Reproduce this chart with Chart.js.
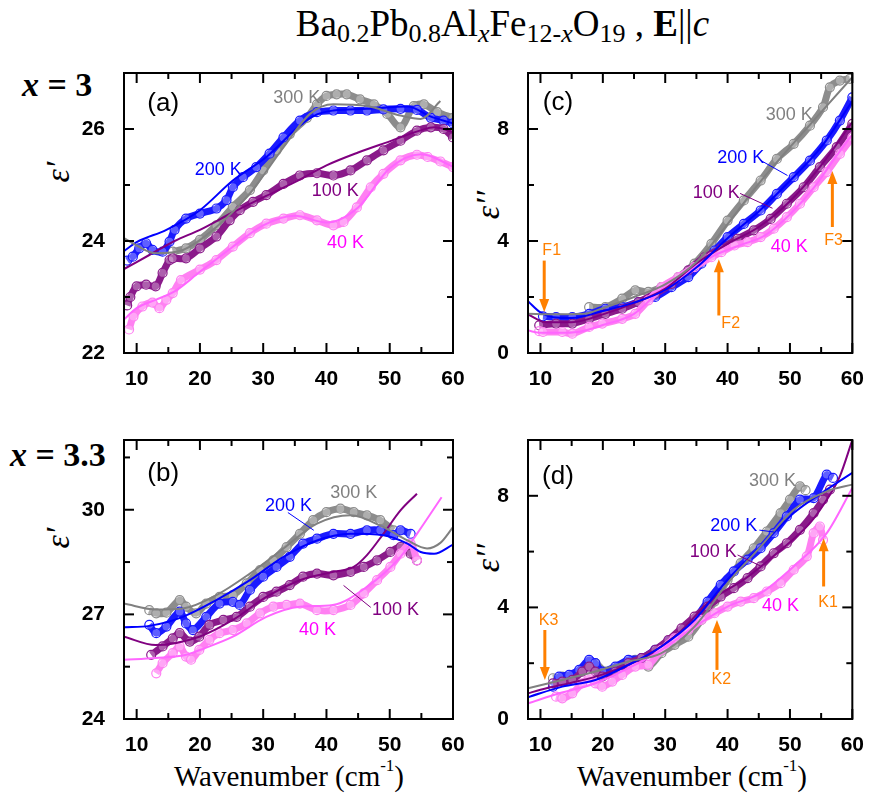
<!DOCTYPE html>
<html>
<head>
<meta charset="utf-8">
<script src="https://cdn.jsdelivr.net/npm/chart.js@4.4.1/dist/chart.umd.min.js"></script>
<style>
  body { margin: 0; background: #fff; }
  #wrap { position: relative; width: 870px; height: 805px; overflow: hidden; font-family: "Liberation Serif", "Times New Roman", serif; }
  canvas { position: absolute; left: 0; top: 0; pointer-events: none; }
  .t { position: absolute; white-space: nowrap; color: #000; }
  .sub { font-size: 26px; position: relative; top: 6px; }
  .eps { position: absolute; font-style: italic; font-size: 34px; transform: translate(-50%, -50%) rotate(-90deg); white-space: nowrap; }
  .wn { position: absolute; top: 760px; font-size: 29px; text-align: center; width: 330px; }
  .wn sup { font-size: 17px; position: relative; top: -4px; vertical-align: top; }
</style>
</head>
<body>
<div id="wrap">
  <div class="t" style="left:0; width:1005px; top:2px; text-align:center; font-size:37px;">Ba<span class="sub">0.2</span>Pb<span class="sub">0.8</span>Al<span class="sub"><i>x</i></span>Fe<span class="sub">12-<i>x</i></span>O<span class="sub">19</span> , <b>E</b>||<i>c</i></div>
  <div class="t" style="left:22px; top:66px; font-size:34px; font-weight:bold;"><i>x</i> = 3</div>
  <div class="t" style="left:10px; top:436px; font-size:34px; font-weight:bold;"><i>x</i> = 3.3</div>
  <div class="eps" style="left:58px; top:172px;">ε′</div>
  <div class="eps" style="left:58px; top:538px;">ε′</div>
  <div class="eps" style="left:488px; top:205px;">ε′′</div>
  <div class="eps" style="left:488px; top:558px;">ε′′</div>
  <div class="wn" style="left:124px;">Wavenumber (cm<sup>-1</sup>)</div>
  <div class="wn" style="left:527px;">Wavenumber (cm<sup>-1</sup>)</div>
  <canvas id="pa" width="870" height="805"></canvas>
  <canvas id="pb" width="870" height="805"></canvas>
  <canvas id="pc" width="870" height="805"></canvas>
  <canvas id="pd" width="870" height="805"></canvas>
</div>
<script>
// axis ticks
const waveTicks = [10, 20, 30, 40, 50, 60];
const waveMinor = [15, 25, 35, 45, 55];
const tempLabels = ['40 K', '100 K', '200 K', '300 K'];
const dataColors = ['#ff80f2', '#8a1a8a', '#1a1aff', '#8c8c8c'];
const fitColors = ['#ff66ff', '#800080', '#0000ff', '#808080'];
const labelColors = ['#ff00ff', '#800080', '#0000ff', '#808080'];

// (a) x = 3, eps'
const a40x = [8.8, 9.5, 10.9, 12.5, 13.6, 14.7, 15.7, 17, 20, 22.6, 25.2, 27.9, 30.5, 33.2, 35.8, 38.5, 41.1, 42.7, 44.8, 47, 49, 51.7, 54.3, 56, 58, 60];
const a40y = [22.42, 22.65, 22.83, 22.9, 22.8, 22.95, 23.07, 23.3, 23.49, 23.66, 23.9, 24.14, 24.31, 24.4, 24.46, 24.37, 24.28, 24.34, 24.6, 24.96, 25.2, 25.44, 25.54, 25.5, 25.42, 25.32];
const a40fx = [8, 10, 13, 16, 20, 25, 30, 35, 40, 45, 50, 55, 60];
const a40fy = [22.6, 22.8, 22.95, 23.1, 23.45, 23.88, 24.28, 24.45, 24.33, 24.6, 25.3, 25.55, 25.33];
const a100x = [8.5, 9, 10, 11.5, 13, 14.1, 15.2, 15.7, 17.8, 20, 22.6, 24.7, 26.3, 28.4, 30.5, 33.2, 35.8, 38.5, 41.1, 43.8, 46.4, 49, 51.7, 54.3, 56.5, 58.5, 60];
const a100y = [22.85, 23.0, 23.19, 23.22, 23.19, 23.43, 23.66, 23.69, 23.69, 23.87, 24.08, 24.37, 24.55, 24.7, 24.82, 25.02, 25.17, 25.21, 25.17, 25.26, 25.44, 25.62, 25.79, 25.97, 26.03, 26.0, 25.85];
const a100fx = [8, 12, 16, 20, 25, 30, 35, 40, 45, 50, 55, 57, 60];
const a100fy = [23.5, 23.75, 24.0, 24.2, 24.5, 24.78, 25.05, 25.35, 25.58, 25.78, 25.98, 26.03, 25.95];
const a200x = [8.5, 9.4, 10.4, 11.5, 12.5, 14.1, 15.2, 16, 17.8, 20, 22.6, 24.2, 25.2, 26.8, 28.9, 31, 33.2, 35.8, 38.5, 41.1, 43.8, 46.4, 49, 51.7, 54.3, 56.5, 58.5, 60];
const a200y = [23.65, 23.72, 23.87, 23.96, 23.84, 23.81, 23.99, 24.2, 24.4, 24.49, 24.58, 24.73, 24.96, 25.14, 25.32, 25.56, 25.85, 26.15, 26.3, 26.33, 26.33, 26.33, 26.35, 26.36, 26.34, 26.2, 26.15, 26.1];
const a200fx = [8, 10, 14.7, 20, 25.2, 30.5, 35.8, 38.5, 41.1, 46.4, 52.8, 56.5, 60];
const a200fy = [23.82, 23.98, 24.2, 24.55, 25.08, 25.5, 26.06, 26.26, 26.33, 26.36, 26.4, 26.22, 26.1];
const a300x = [15.7, 17.8, 20, 22.6, 25.2, 27.9, 30, 32.1, 34.2, 36.9, 38.5, 40, 41.6, 43.2, 45.3, 47.5, 49.6, 51.7, 53.8, 55.4, 57.5, 60];
const a300y = [23.81, 23.87, 24.02, 24.28, 24.61, 24.91, 25.26, 25.62, 25.91, 26.2, 26.44, 26.59, 26.62, 26.62, 26.53, 26.44, 26.27, 26.03, 26.41, 26.44, 26.3, 26.2];
const a300fx = [8, 10, 13, 17.3, 22.6, 27.9, 33.2, 37.4, 41.1, 46.4, 51.7, 54.9, 58];
const a300fy = [24.05, 23.92, 23.78, 23.84, 24.25, 24.85, 25.67, 26.27, 26.44, 26.41, 26.24, 26.18, 26.5];

// (b) x = 3.3, eps'
const b40x = [13.1, 14.1, 15.7, 16.8, 17.8, 18.6, 19.9, 21.5, 23.1, 25.2, 27.4, 29.5, 31.6, 33.7, 35.8, 38.5, 41.1, 43.8, 45.9, 48, 50.1, 51.7, 53.3, 54.3];
const b40y = [25.31, 25.6, 25.89, 26.08, 25.79, 25.7, 25.98, 26.27, 26.46, 26.55, 26.74, 27.03, 27.22, 27.27, 27.31, 27.12, 27.12, 27.27, 27.6, 27.98, 28.36, 28.74, 29.03, 28.55];
const b40fx = [8, 13, 18, 20, 25.2, 30.5, 35.8, 41, 46.4, 51.7, 54.3, 58.2];
const b40fy = [25.7, 25.75, 25.85, 25.98, 26.36, 26.93, 27.22, 27.27, 27.79, 28.65, 29.31, 30.36];
const b100x = [12.3, 14.1, 15.7, 16.8, 18.4, 19.9, 21.5, 23.7, 25.8, 27.9, 30, 32.1, 34.2, 36.3, 38.5, 41.1, 43.8, 45.9, 48, 50.1, 51.7, 53.3, 54.3];
const b100y = [25.84, 26.08, 26.31, 26.46, 26.22, 26.36, 26.7, 26.84, 26.93, 27.22, 27.5, 27.65, 27.84, 28.08, 28.17, 28.12, 28.22, 28.36, 28.55, 28.79, 28.93, 28.74, 28.55];
const b100fx = [8, 13, 19.9, 25.2, 30.5, 35.8, 41.1, 44.3, 46.4, 49, 51.7, 54.3];
const b100fy = [26.36, 26.12, 26.36, 26.84, 27.5, 27.98, 28.22, 28.36, 28.7, 29.31, 29.98, 30.46];
const b200x = [12, 13.1, 14.7, 16.8, 17.8, 18.9, 21, 23.1, 25.2, 26.3, 27.9, 30, 32.1, 34.2, 36.3, 38.5, 41.1, 43.8, 46.4, 48.5, 50.6, 51.7, 53.3];
const b200y = [26.7, 26.46, 26.65, 27.08, 26.74, 26.55, 26.93, 27.31, 27.36, 27.27, 27.7, 28.08, 28.36, 28.65, 29.03, 29.17, 29.31, 29.31, 29.41, 29.41, 29.27, 29.41, 29.31];
const b200fx = [8, 12, 17.3, 22.6, 27.9, 33.2, 38.5, 43.8, 49, 52.8, 54.9, 57, 60];
const b200fy = [26.63, 26.67, 26.93, 27.41, 27.98, 28.65, 29.12, 29.31, 29.27, 29.03, 28.79, 28.74, 29.0];
const b300x = [12, 13.1, 14.7, 16.8, 17.8, 19.4, 21, 23.1, 25.2, 27.4, 29.5, 31.6, 33.7, 35.8, 37.9, 40, 42.2, 44.3, 46.4, 48.5, 50.6];
const b300y = [27.12, 27.03, 27.05, 27.41, 27.22, 27.03, 27.31, 27.5, 27.55, 27.89, 28.27, 28.55, 28.93, 29.31, 29.7, 29.93, 30.03, 29.93, 29.84, 29.7, 29.41];
const b300fx = [8, 13, 17.3, 22.6, 27.9, 33.2, 38.5, 43.8, 49, 52.8, 55.9, 58, 60];
const b300fy = [27.31, 27.14, 27.17, 27.55, 28.17, 28.89, 29.6, 29.84, 29.5, 29.12, 28.89, 29.05, 29.5];

// (c) x = 3, eps''
const c40x = [9.8, 10.4, 13.5, 15.1, 17.8, 19.9, 23.1, 25.2, 27.3, 29.4, 32.1, 34.7, 37.4, 39, 41.1, 43.2, 45.3, 47.4, 49.5, 51.6, 53.8, 55.9, 58, 60];
const c40y = [0.78, 0.75, 0.75, 0.69, 0.93, 1.05, 1.22, 1.4, 1.88, 2.35, 2.71, 3.07, 3.42, 3.6, 3.84, 3.96, 4.14, 4.44, 4.85, 5.33, 5.92, 6.46, 7.11, 7.7];
const c40fx = [8, 10, 13, 16, 20, 25, 30, 35, 38, 42, 46, 50, 54, 57, 60];
const c40fy = [0.8, 0.72, 0.72, 0.75, 1.0, 1.4, 2.4, 3.1, 3.5, 3.85, 4.2, 4.95, 5.95, 6.9, 7.8];
const c100x = [9.8, 12.5, 15.1, 17.8, 20.4, 23.1, 25.7, 28.4, 31, 33.7, 36.3, 38.9, 41.6, 44.2, 46.9, 49.5, 52.2, 54.8, 57.5, 60];
const c100y = [0.99, 1.05, 1.05, 1.22, 1.4, 1.58, 1.82, 2.12, 2.47, 2.95, 3.42, 3.72, 4.08, 4.38, 4.79, 5.33, 5.92, 6.64, 7.35, 8.18];
const c100fx = [8, 10.9, 15, 20, 25, 30, 35, 40, 45, 50, 55, 60];
const c100fy = [1.38, 1.1, 1.1, 1.38, 1.78, 2.3, 3.2, 3.9, 4.5, 5.42, 6.7, 8.25];
const c200x = [10.4, 12.5, 15.1, 17.8, 20.4, 23.1, 25.7, 28.4, 31, 33.7, 35.8, 37.9, 40, 42.6, 45.3, 47.9, 50.6, 53.2, 55.9, 58, 60];
const c200y = [1.31, 1.28, 1.28, 1.4, 1.58, 1.64, 1.82, 2.0, 2.35, 2.71, 3.19, 3.66, 4.14, 4.61, 5.09, 5.68, 6.28, 6.87, 7.59, 8.3, 9.13];
const c200fx = [8, 10, 12, 15, 20, 25, 30, 35, 40, 45, 50, 55, 60];
const c200fy = [1.85, 1.45, 1.28, 1.25, 1.5, 1.8, 2.25, 3.05, 4.1, 5.05, 6.15, 7.35, 9.0];
const c300x = [17.8, 20.4, 23.1, 25.2, 27.3, 29.4, 32.1, 34.7, 37.4, 40, 42.6, 45.3, 47.9, 50.6, 53.2, 55.3, 56.4, 58, 59.6];
const c300y = [1.64, 1.64, 1.94, 2.24, 2.18, 2.35, 2.71, 3.19, 3.9, 4.73, 5.45, 6.16, 6.93, 7.47, 8.12, 8.78, 9.49, 9.73, 9.79];
const c300fx = [8, 12, 17, 20, 25, 30, 35, 40, 45, 50, 55, 60];
const c300fy = [1.4, 1.38, 1.4, 1.6, 2.0, 2.45, 3.25, 4.6, 6.05, 7.35, 8.6, 9.85];

// (d) x = 3.3, eps''
const d40x = [12.5, 13.5, 15.1, 16.7, 17.8, 18.8, 19.9, 21.5, 23.1, 25.2, 27.3, 29.4, 31.5, 33.7, 35.8, 37.9, 40, 42.1, 44.2, 46.3, 48.5, 50.6, 52.7, 53.8, 54.8, 55.3];
const d40y = [0.8, 0.74, 0.92, 1.28, 1.46, 1.28, 1.16, 1.34, 1.58, 1.88, 1.94, 2.48, 2.89, 3.19, 3.55, 3.79, 4.03, 4.21, 4.33, 4.57, 4.87, 5.35, 5.83, 6.66, 6.9, 6.42];
const d40fx = [8, 13, 18.8, 24.1, 29.4, 34.7, 40, 45.3, 50.6, 55.9, 60];
const d40fy = [0.56, 0.92, 1.28, 1.82, 2.48, 3.31, 4.03, 4.51, 5.47, 6.66, 8.28];
const d100x = [12, 13.5, 15.1, 16.7, 17.8, 18.8, 19.9, 22, 24.1, 26.2, 28.4, 30.5, 32.6, 34.7, 36.8, 38.9, 41, 43.2, 45.3, 47.4, 49.5, 51.6, 53.8, 55.3, 56.4];
const d100y = [1.28, 1.34, 1.4, 1.7, 1.88, 1.7, 1.52, 1.7, 2.0, 2.18, 2.48, 2.83, 3.25, 3.67, 4.03, 4.39, 4.69, 5.05, 5.47, 5.94, 6.3, 6.78, 7.38, 7.86, 8.22];
const d100fx = [8, 10, 15, 20, 26.8, 32.1, 37.4, 42.6, 47.9, 53.2, 55.9, 58, 60];
const d100fy = [0.92, 1.05, 1.3, 1.6, 2.24, 3.07, 4.27, 4.99, 5.94, 7.02, 7.86, 8.7, 10.0];
const d200x = [12, 13, 14.6, 16.2, 17.8, 18.8, 19.9, 22, 24.1, 26.2, 28.4, 30.5, 32.6, 34.7, 36.8, 38.9, 41, 43.2, 45.3, 47.4, 49.5, 51.6, 53.8, 55.9, 56.9];
const d200y = [1.16, 1.52, 1.58, 1.76, 2.12, 2.0, 1.7, 1.88, 2.12, 2.18, 2.48, 2.78, 3.07, 3.55, 4.21, 4.81, 5.29, 5.71, 6.12, 6.66, 7.26, 7.86, 7.92, 8.76, 8.64];
const d200fx = [8, 13.5, 18.8, 24.1, 29.4, 34.7, 40, 45.3, 50.6, 55.9, 60];
const d200fy = [0.78, 1.16, 1.4, 1.94, 2.6, 3.55, 4.99, 6.18, 7.38, 8.22, 8.82];
const d300x = [12, 13.5, 15.1, 17.2, 18.8, 20.4, 22.5, 25.2, 27.3, 29.4, 31.5, 33.7, 35.8, 37.9, 40, 42.1, 44.2, 46.3, 48.5, 50, 51.6, 52.5];
const d300y = [1.46, 1.52, 1.52, 1.88, 2.0, 1.7, 1.88, 2.12, 1.88, 2.36, 2.66, 2.95, 3.55, 4.21, 4.99, 5.59, 6.12, 6.72, 7.38, 7.86, 8.34, 8.2];
const d300fx = [8, 13.5, 18.8, 24.1, 29.4, 34.7, 40, 45.3, 50.6, 55.9, 60];
const d300fy = [1.1, 1.4, 1.7, 2.06, 2.36, 3.31, 4.87, 6.18, 7.5, 8.16, 8.4];

const pts = (xs, ys) => xs.map((x, i) => ({ x: x, y: ys[i] }));

// draws frame, inward ticks, labels, leader lines and arrows
const decor = {
  id: 'decor',
  afterDatasetsDraw(chart, args, o) {
    const { ctx, chartArea: ca, scales: { x, y } } = chart;
    const px = v => x.getPixelForValue(v), py = v => y.getPixelForValue(v);
    ctx.save();
    ctx.textAlign = 'center';
    ctx.textBaseline = 'middle';
    (o.leaders || []).forEach(l => {
      ctx.strokeStyle = l.color; ctx.lineWidth = 1;
      ctx.beginPath(); ctx.moveTo(px(l.x1), py(l.y1)); ctx.lineTo(px(l.x2), py(l.y2)); ctx.stroke();
    });
    (o.texts || []).forEach(t => {
      ctx.font = t.font || '18px "Liberation Sans", Arial, sans-serif';
      ctx.fillStyle = t.color || '#000';
      ctx.fillText(t.text, px(t.x), py(t.y));
    });
    (o.arrows || []).forEach(a => {
      const X = px(a.x), Y1 = py(a.y1), Y2 = py(a.y2), dir = Y2 > Y1 ? 1 : -1;
      ctx.strokeStyle = '#ff8000'; ctx.fillStyle = '#ff8000'; ctx.lineWidth = 3;
      ctx.beginPath(); ctx.moveTo(X, Y1); ctx.lineTo(X, Y2 - dir * 10); ctx.stroke();
      ctx.beginPath(); ctx.moveTo(X, Y2); ctx.lineTo(X - 5, Y2 - dir * 13); ctx.lineTo(X + 5, Y2 - dir * 13); ctx.closePath(); ctx.fill();
      ctx.font = '16px "Liberation Sans", Arial, sans-serif';
      ctx.fillText(a.text, px(a.tx), py(a.ty));
    });
    ctx.strokeStyle = '#000'; ctx.lineWidth = 2;
    ctx.strokeRect(ca.left, ca.top, ca.width, ca.height);
    const seg = (x1, y1, x2, y2) => { ctx.beginPath(); ctx.moveTo(x1, y1); ctx.lineTo(x2, y2); ctx.stroke(); };
    const xt = (v, len) => { const p = px(v); seg(p, ca.bottom, p, ca.bottom - len); seg(p, ca.top, p, ca.top + len); };
    const yt = (v, len) => { const p = py(v); seg(ca.left, p, ca.left + len, p); seg(ca.right, p, ca.right - len, p); };
    waveTicks.forEach(v => xt(v, 10));
    waveMinor.forEach(v => xt(v, 6));
    o.yMajor.forEach(v => yt(v, 10));
    o.yMinor.forEach(v => yt(v, 6));
    ctx.restore();
  }
};

function makeChart(id, p) {
  const sets = [];
  p.fits.forEach((f, i) => sets.push({
    data: pts(f[0], f[1]), showLine: true, pointRadius: 0, borderColor: fitColors[i],
    borderWidth: 2, cubicInterpolationMode: 'monotone', order: 4 - i
  }));
  p.data.forEach((d, i) => sets.push({
    data: pts(d[0], d[1]), showLine: true, tension: 0.3, borderColor: dataColors[i], borderWidth: 7,
    pointRadius: 4.5, pointBorderWidth: 1.2, pointBorderColor: dataColors[i],
    pointBackgroundColor: 'rgba(255,255,255,0.3)', order: 10 + i
  }));
  const tickFont = { family: '"Liberation Sans", Arial, sans-serif', size: 21, weight: 'bold' };
  const [L, T, R, B] = p.area;
  new Chart(document.getElementById(id), {
    type: 'scatter',
    data: { datasets: sets },
    options: {
      responsive: false, animation: false,
      layout: { padding: { left: L - 50, top: T, right: 870 - R, bottom: 805 - B - 40 } },
      plugins: {
        legend: { display: false }, tooltip: { enabled: false },
        decor: { yMajor: p.yTicks, yMinor: p.yMinor, texts: p.texts, leaders: p.leaders, arrows: p.arrows }
      },
      scales: {
        x: {
          type: 'linear', min: 8, max: 60,
          afterBuildTicks: s => { s.ticks = waveTicks.map(v => ({ value: v })); },
          afterFit: s => { s.height = 40; },
          grid: { display: false }, border: { display: false },
          ticks: { font: tickFont, color: '#000', padding: 6, maxRotation: 0, autoSkip: false }
        },
        y: {
          type: 'linear', min: p.yMin, max: p.yMax,
          afterBuildTicks: s => { s.ticks = p.yTicks.map(v => ({ value: v })); },
          afterFit: s => { s.width = 50; },
          grid: { display: false }, border: { display: false },
          ticks: { font: tickFont, color: '#000', padding: 11 }
        }
      }
    },
    plugins: [decor]
  });
}

const lbl = (text, x, y, i) => ({ text: text, x: x, y: y, color: i === undefined ? '#000' : labelColors[i],
  font: i === undefined ? '26px "Liberation Sans", Arial, sans-serif' : '18px "Liberation Sans", Arial, sans-serif' });

makeChart('pa', {
  area: [124, 73, 453, 353], yMin: 22, yMax: 27, yTicks: [22, 24, 26], yMinor: [23, 25, 27],
  data: [[a40x, a40y], [a100x, a100y], [a200x, a200y], [a300x, a300y]],
  fits: [[a40fx, a40fy], [a100fx, a100fy], [a200fx, a200fy], [a300fx, a300fy]],
  texts: [lbl('(a)', 14.2, 26.45), lbl(tempLabels[0], 43.0, 23.96, 0), lbl(tempLabels[1], 41.4, 24.9, 1),
          lbl(tempLabels[2], 22.9, 25.26, 2), lbl(tempLabels[3], 35.3, 26.56, 3)]
});
makeChart('pb', {
  area: [124, 440, 453, 719], yMin: 24, yMax: 32, yTicks: [24, 27, 30], yMinor: [25.5, 28.5, 31.5],
  data: [[b40x, b40y], [b100x, b100y], [b200x, b200y], [b300x, b300y]],
  fits: [[b40fx, b40fy], [b100fx, b100fy], [b200fx, b200fy], [b300fx, b300fy]],
  texts: [lbl('(b)', 14.2, 31.04), lbl(tempLabels[0], 38.6, 26.55, 0), lbl(tempLabels[1], 50.9, 27.12, 1),
          lbl(tempLabels[2], 34.0, 30.12, 2), lbl(tempLabels[3], 44.3, 30.47, 3)],
  leaders: [{ x1: 33.9, y1: 29.92, x2: 38.0, y2: 29.41, color: labelColors[2] },
            { x1: 47.0, y1: 27.2, x2: 42.7, y2: 27.83, color: labelColors[1] }]
});
makeChart('pc', {
  area: [528, 73, 856, 353], yMin: 0, yMax: 10, yTicks: [0, 4, 8], yMinor: [2, 6, 10],
  data: [[c40x, c40y], [c100x, c100y], [c200x, c200y], [c300x, c300y]],
  fits: [[c40fx, c40fy], [c100fx, c100fy], [c200fx, c200fy], [c300fx, c300fy]],
  texts: [lbl('(c)', 12.8, 8.95), lbl(tempLabels[0], 49.9, 3.77, 0), lbl(tempLabels[1], 38.2, 5.7, 1),
          lbl(tempLabels[2], 42.1, 6.95, 2), lbl(tempLabels[3], 49.9, 8.49, 3)],
  leaders: [{ x1: 45.3, y1: 6.88, x2: 49.6, y2: 6.34, color: labelColors[2] },
            { x1: 42.0, y1: 5.7, x2: 47.2, y2: 5.17, color: labelColors[1] }],
  arrows: [{ text: 'F1', x: 10.6, y1: 3.3, y2: 1.46, tx: 11.8, ty: 3.67 },
           { text: 'F2', x: 38.6, y1: 1.34, y2: 3.35, tx: 40.5, ty: 1.05 },
           { text: 'F3', x: 56.8, y1: 4.5, y2: 6.5, tx: 57.0, ty: 4.02 }]
});
makeChart('pd', {
  area: [528, 440, 856, 719], yMin: 0, yMax: 10, yTicks: [0, 4, 8], yMinor: [2, 6, 10],
  data: [[d40x, d40y], [d100x, d100y], [d200x, d200y], [d300x, d300y]],
  fits: [[d40fx, d40fy], [d100fx, d100fy], [d200fx, d200fy], [d300fx, d300fy]],
  texts: [lbl('(d)', 12.8, 8.68), lbl(tempLabels[0], 48.5, 4.05, 0), lbl(tempLabels[1], 37.7, 5.99, 1),
          lbl(tempLabels[2], 41.0, 6.92, 2), lbl(tempLabels[3], 47.2, 8.53, 3)],
  leaders: [{ x1: 45.1, y1: 6.77, x2: 47.5, y2: 6.7, color: labelColors[2] },
            { x1: 41.6, y1: 5.88, x2: 45.6, y2: 5.45, color: labelColors[1] }],
  arrows: [{ text: 'K3', x: 10.7, y1: 3.19, y2: 1.4, tx: 11.3, ty: 3.51 },
           { text: 'K2', x: 38.3, y1: 1.76, y2: 3.55, tx: 39.0, ty: 1.43 },
           { text: 'K1', x: 55.4, y1: 4.75, y2: 6.48, tx: 56.1, ty: 4.16 }]
});
</script>
</body>
</html>
